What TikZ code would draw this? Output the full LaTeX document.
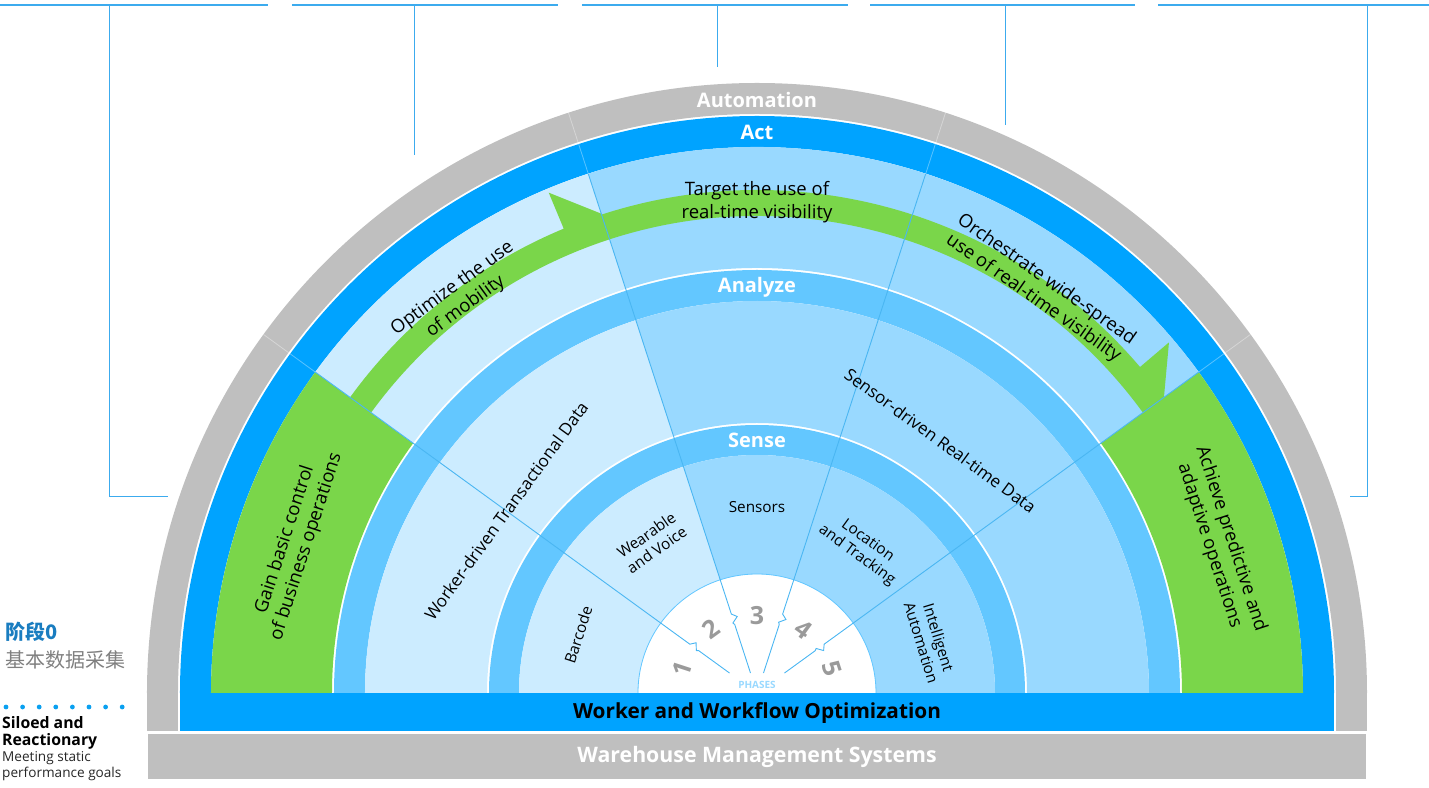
\documentclass[tikz,border=0pt]{standalone}
\usepackage{fontspec}
\setmainfont{Open Sans}
\newfontfamily\cjk{Noto Sans CJK SC}
\usetikzlibrary{positioning}

\definecolor{actblue}{HTML}{00A3FF}
\definecolor{ringblue}{HTML}{63C7FF}
\definecolor{paleblue}{HTML}{CCECFF}
\definecolor{midblue}{HTML}{99D9FF}
\definecolor{leafgreen}{HTML}{7AD64A}
\definecolor{ringgray}{HTML}{BFBFBF}
\definecolor{linkblue}{HTML}{3CABEE}
\definecolor{lineblue}{HTML}{4AB6F2}
\definecolor{phasegray}{HTML}{9A9A9A}
\definecolor{stageblue}{HTML}{1A7DC0}
\definecolor{dotblue}{HTML}{0AA0F0}

% color, start angle, end angle, inner radius, outer radius
\newcommand{\ringpart}[5]{\fill[#1] (#2:#5pt) arc[start angle=#2, end angle=#3, radius=#5pt] -- (#3:#4pt) arc[start angle=#3, end angle=#2, radius=#4pt] -- cycle;}

\begin{document}
\begin{tikzpicture}[x=1pt, y=1pt,
  ring label/.style={font=\bfseries\fontsize{20}{20}\selectfont, text=white, inner sep=0pt},
  goal text/.style={font=\fontsize{18.5}{22.5}\selectfont, align=center, inner sep=0pt},
  data text/.style={font=\fontsize{17}{20}\selectfont, inner sep=0pt},
  tech text/.style={font=\fontsize{15.3}{18}\selectfont, align=center, inner sep=0pt},
  phase num/.style={font=\bfseries\fontsize{25}{25}\selectfont, text=phasegray, inner sep=0pt},
  phase line/.style={draw=lineblue, line width=0.9pt},
  link line/.style={draw=linkblue, line width=1pt}]
\useasboundingbox (-757,-94) rectangle (672,693);

% outer rings
\ringpart{ringgray}{0}{180}{579}{610}
\fill[ringgray] (-610,0) rectangle (-579,-38);
\fill[ringgray] (579,0) rectangle (610,-38);
\ringpart{actblue}{0}{180}{546}{577}
\ringpart{leafgreen}{144}{180}{425}{546}
\ringpart{paleblue}{108}{144}{425}{546}
\ringpart{midblue}{36}{108}{425}{546}
\ringpart{leafgreen}{0}{36}{425}{546}
\ringpart{ringblue}{0}{180}{392}{423}
\ringpart{paleblue}{108}{180}{270}{392}
\ringpart{midblue}{0}{108}{270}{392}
\ringpart{ringblue}{0}{180}{238}{268}
\ringpart{paleblue}{108}{180}{119}{238}
\ringpart{midblue}{0}{108}{119}{238}
\draw[ringblue, line width=0.8pt] (119,0) arc[start angle=0, end angle=180, radius=119pt];

% green arrows
\fill[leafgreen] (144:503pt) arc[start angle=144, end angle=112.6, radius=503pt] -- (112.6:542pt) -- (108:504pt) -- (108:477pt) arc[start angle=108, end angle=144, radius=477pt] -- cycle;
\fill[leafgreen] (108:503pt) arc[start angle=108, end angle=40.4, radius=503pt] -- (40.4:541pt) -- (36:503pt) -- (36:477pt) arc[start angle=36, end angle=108, radius=477pt] -- cycle;

% phase borders
\foreach \a/\r in {144/34, 108/21, 72/21, 36/34} {
  \draw[phase line] (\a:\r pt) -- (\a:72pt) -- (\a+1:74pt) -- (\a-3.5:79pt) -- (\a:83pt) -- (\a:546pt);
  \draw[white, opacity=0.35, line width=0.8pt] (\a:546pt) -- (\a:610pt);
}

% bottom bars
\fill[actblue] (-577,0) rectangle (577,-38);
\fill[ringgray] (-609,-41) rectangle (609,-86);
\node[font=\bfseries\fontsize{20.8}{20.8}\selectfont, inner sep=0pt] (wwo) at (0,-20) {Worker and Workflow Optimization};
\node[font=\bfseries\fontsize{21.3}{21.3}\selectfont, text=white, inner sep=0pt] (wms) at (0,-64) {Warehouse Management Systems};

% ring labels
\node[ring label] (automation) at (90:593pt) {Automation};
\node[ring label] (act) at (90:561pt) {Act};
\node[ring label] (analyze) at (90:406pt) {Analyze};
\node[ring label] (sense) at (90:253pt) {Sense};

% goals
\node[goal text, rotate=72] (gain) at (162:485pt) {Gain basic control\\of business operations};
\node[goal text, rotate=36] (optimize) at (127:495pt) {Optimize the use\\of mobility};
\node[goal text] (target) at (90:491pt) {Target the use of\\real-time visibility};
\node[goal text, rotate=-35] (orchestrate) at (55:493pt) {Orchestrate wide-spread\\use of real-time visibility};
\node[goal text, rotate=-72] (achieve) at (18:487pt) {Achieve predictive and\\adaptive operations};

% data
\node[data text, rotate=54] (worker) at (144:310pt) {Worker-driven Transactional Data};
\node[data text, rotate=-36] (sensor) at (54:312pt) {Sensor-driven Real-time Data};

% technologies
\node[tech text, rotate=72] (barcode) at (162:188pt) {Barcode};
\node[tech text, rotate=35] (wearable) at (125:184pt) {Wearable\\and Voice};
\node[tech text] (sensors) at (90:186pt) {Sensors};
\node[tech text, rotate=-36] (location) at (54:179pt) {Location\\and Tracking};
\node[tech text, rotate=-73] (intelligent) at (17:181pt) {Intelligent\\Automation};

% phases
\node[phase num, rotate=72] (p1) at (162:79pt) {1};
\node[phase num, rotate=36] (p2) at (126:79pt) {2};
\node[phase num] (p3) at (90:77pt) {3};
\node[phase num, rotate=-36] (p4) at (54:79pt) {4};
\node[phase num, rotate=-72] (p5) at (18:79pt) {5};
\node[font=\bfseries\fontsize{10}{10}\selectfont, text=midblue, inner sep=0pt] (phases) at (0,8) {PHASES};

% links to the top
\coordinate (t1a) at (-757,688); \coordinate (t1b) at (-489,688);
\coordinate (t2a) at (-465,688); \coordinate (t2b) at (-199,688);
\coordinate (t3a) at (-175,688); \coordinate (t3b) at (91,688);
\coordinate (t4a) at (113,688); \coordinate (t4b) at (378,688);
\coordinate (t5a) at (401,688); \coordinate (t5b) at (672,688);
\foreach \n in {1,...,5} \draw[link line, line width=2pt] (t\n a) -- (t\n b);
\coordinate (l1) at (-647,688); \coordinate (l1b) at (-647,196); \coordinate (l1c) at (-589,196);
\coordinate (l2) at (-342,688); \coordinate (l2b) at (-342,538);
\coordinate (l3) at (-40,688); \coordinate (l3b) at (-40,626);
\coordinate (l4) at (248,688); \coordinate (l4b) at (248,568);
\coordinate (l5) at (610,688); \coordinate (l5b) at (610,196); \coordinate (l5c) at (593,196);
\draw[link line] (l1) -- (l1b) -- (l1c);
\draw[link line] (l2) -- (l2b);
\draw[link line] (l3) -- (l3b);
\draw[link line] (l4) -- (l4b);
\draw[link line] (l5) -- (l5b) -- (l5c);

% stage legend
\node[anchor=west, inner sep=0pt, text=stageblue, font=\cjk\bfseries\fontsize{20}{20}\selectfont] (stage) at (-752,61) {阶段0};
\node[anchor=west, inner sep=0pt, text=gray, font=\cjk\fontsize{20}{20}\selectfont] (stagename) at (-752,33) {基本数据采集};
\foreach \i in {0,...,7} \fill[dotblue] (-751+\i*16.6,-14) circle[radius=2.4pt];
\node[anchor=west, inner sep=0pt, align=left, font=\bfseries\fontsize{15.8}{17}\selectfont] (siloed) at (-755,-39.5) {Siloed and\\Reactionary};
\node[anchor=west, inner sep=0pt, align=left, text=black!85, font=\fontsize{13.6}{16}\selectfont] (meeting) at (-755,-73) {Meeting static\\performance goals};
\end{tikzpicture}
\end{document}
